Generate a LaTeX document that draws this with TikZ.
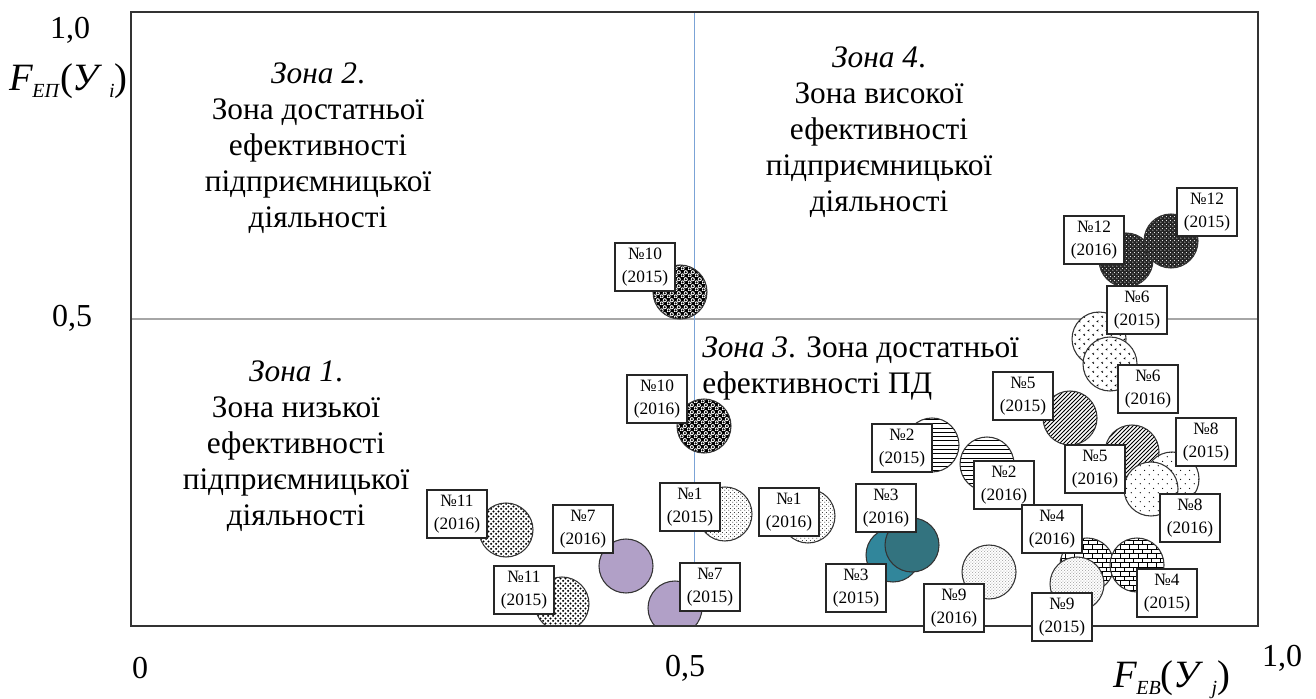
\documentclass[tikz,border=0pt]{standalone}
\usepackage{fontspec}
\setmainfont{Liberation Serif}
\usetikzlibrary{patterns}

% fine stipple (No.1)
\pgfdeclarepatternformonly{pdotA}{\pgfqpoint{0pt}{0pt}}{\pgfqpoint{3pt}{3pt}}{\pgfqpoint{3pt}{3pt}}{%
\pgfpathcircle{\pgfqpoint{0.75pt}{0.75pt}}{0.42pt}%
\pgfpathcircle{\pgfqpoint{2.25pt}{2.25pt}}{0.42pt}\pgfusepath{fill}}
% very fine grey stipple (No.9)
\pgfdeclarepatternformonly{pdotB}{\pgfqpoint{0pt}{0pt}}{\pgfqpoint{2.4pt}{2.4pt}}{\pgfqpoint{2.4pt}{2.4pt}}{%
\pgfpathcircle{\pgfqpoint{0.6pt}{0.6pt}}{0.36pt}%
\pgfpathcircle{\pgfqpoint{1.8pt}{1.8pt}}{0.36pt}\pgfusepath{fill}}
% sparse dots (No.8)
\pgfdeclarepatternformonly{pdotC}{\pgfqpoint{0pt}{0pt}}{\pgfqpoint{7pt}{7pt}}{\pgfqpoint{7pt}{7pt}}{%
\pgfpathcircle{\pgfqpoint{1.75pt}{1.75pt}}{0.5pt}%
\pgfpathcircle{\pgfqpoint{5.25pt}{5.25pt}}{0.5pt}\pgfusepath{fill}}
% dense black dots (No.11)
\pgfdeclarepatternformonly{pdotD}{\pgfqpoint{0pt}{0pt}}{\pgfqpoint{3.6pt}{3.6pt}}{\pgfqpoint{3.6pt}{3.6pt}}{%
\pgfpathcircle{\pgfqpoint{0.9pt}{0.9pt}}{0.85pt}%
\pgfpathcircle{\pgfqpoint{2.7pt}{2.7pt}}{0.85pt}\pgfusepath{fill}}
% chevrons (No.6)
\pgfdeclarepatternformonly{pchev}{\pgfqpoint{0pt}{0pt}}{\pgfqpoint{7pt}{7pt}}{\pgfqpoint{7pt}{7pt}}{%
\pgfsetlinewidth{0.45pt}%
\pgfpathmoveto{\pgfqpoint{2.4pt}{2.4pt}}\pgfpathlineto{\pgfqpoint{1.2pt}{1.75pt}}\pgfpathlineto{\pgfqpoint{2.4pt}{1.1pt}}%
\pgfpathmoveto{\pgfqpoint{5.9pt}{5.9pt}}\pgfpathlineto{\pgfqpoint{4.7pt}{5.25pt}}\pgfpathlineto{\pgfqpoint{5.9pt}{4.6pt}}%
\pgfusepath{stroke}}
% north east lines (No.5)
\pgfdeclarepatternformonly{pnel}{\pgfqpoint{-1pt}{-1pt}}{\pgfqpoint{4pt}{4pt}}{\pgfqpoint{3pt}{3pt}}{%
\pgfsetlinewidth{0.6pt}\pgfpathmoveto{\pgfqpoint{0pt}{0pt}}\pgfpathlineto{\pgfqpoint{3.1pt}{3.1pt}}\pgfusepath{stroke}}
% horizontal lines (No.2)
\pgfdeclarepatternformonly{phor}{\pgfqpoint{-1pt}{0pt}}{\pgfqpoint{4pt}{3.2pt}}{\pgfqpoint{3pt}{3.2pt}}{%
\pgfsetlinewidth{0.6pt}\pgfpathmoveto{\pgfqpoint{-0.5pt}{1.6pt}}\pgfpathlineto{\pgfqpoint{3.5pt}{1.6pt}}\pgfusepath{stroke}}
% bricks (No.4)
\pgfdeclarepatternformonly{pbrick}{\pgfqpoint{-0.5pt}{-0.5pt}}{\pgfqpoint{7.5pt}{7.5pt}}{\pgfqpoint{6.8pt}{6.8pt}}{%
\pgfsetlinewidth{0.55pt}%
\pgfpathmoveto{\pgfqpoint{0pt}{0.2pt}}\pgfpathlineto{\pgfqpoint{6.8pt}{0.2pt}}%
\pgfpathmoveto{\pgfqpoint{0pt}{3.6pt}}\pgfpathlineto{\pgfqpoint{6.8pt}{3.6pt}}%
\pgfpathmoveto{\pgfqpoint{0.2pt}{0.2pt}}\pgfpathlineto{\pgfqpoint{0.2pt}{3.6pt}}%
\pgfpathmoveto{\pgfqpoint{3.6pt}{3.6pt}}\pgfpathlineto{\pgfqpoint{3.6pt}{7.0pt}}%
\pgfusepath{stroke}}
% balls (No.10)
\pgfdeclarepatternformonly{pballW}{\pgfqpoint{0pt}{0pt}}{\pgfqpoint{5pt}{5pt}}{\pgfqpoint{5pt}{5pt}}{%
\pgfpathcircle{\pgfqpoint{1.25pt}{1.25pt}}{1.6pt}%
\pgfpathcircle{\pgfqpoint{3.75pt}{3.75pt}}{1.6pt}\pgfusepath{fill}}
\pgfdeclarepatternformonly{pballK}{\pgfqpoint{0pt}{0pt}}{\pgfqpoint{5pt}{5pt}}{\pgfqpoint{5pt}{5pt}}{%
\pgfpathcircle{\pgfqpoint{1.25pt}{1.25pt}}{0.9pt}%
\pgfpathcircle{\pgfqpoint{3.75pt}{3.75pt}}{0.9pt}\pgfusepath{fill}}
% dark lattice (No.12)
\pgfdeclarepatternformonly{plat}{\pgfqpoint{0pt}{0pt}}{\pgfqpoint{3pt}{3pt}}{\pgfqpoint{3pt}{3pt}}{%
\pgfpathcircle{\pgfqpoint{0.75pt}{0.75pt}}{0.5pt}%
\pgfpathcircle{\pgfqpoint{2.25pt}{2.25pt}}{0.5pt}\pgfusepath{fill}}

\definecolor{lav}{HTML}{B1A0C7}
\definecolor{tealA}{HTML}{31869B}
\definecolor{tealB}{HTML}{33737F}
\definecolor{hgray}{HTML}{A6A6A6}
\definecolor{vblue}{HTML}{7BA3D6}

\begin{document}
\begin{tikzpicture}[x=0.75pt,y=-0.75pt,
  frame/.style={draw=black!80, line width=1pt},
  hline/.style={draw=hgray, line width=1pt},
  vline/.style={draw=vblue, line width=1pt},
  bub/.style={circle, minimum size=40.5pt, inner sep=0pt, draw=black!80, line width=0.8pt},
  pat1/.style={bub, preaction={fill=white}, preaction={pattern=pdotA, pattern color=black}},
  pat2/.style={bub, preaction={fill=white}, preaction={pattern=phor, pattern color=black}},
  pat3a/.style={bub, fill=tealA},
  pat3b/.style={bub, fill=tealB},
  pat4/.style={bub, preaction={fill=white}, preaction={pattern=pbrick, pattern color=black}},
  pat5/.style={bub, preaction={fill=white}, preaction={pattern=pnel, pattern color=black}},
  pat6/.style={bub, preaction={fill=white}, preaction={pattern=pchev, pattern color=black}},
  pat7/.style={bub, fill=lav},
  pat8/.style={bub, preaction={fill=white}, preaction={pattern=pdotC, pattern color=black}},
  pat9/.style={bub, preaction={fill=white}, preaction={pattern=pdotB, pattern color=black!75}},
  pat10/.style={bub, preaction={fill=black}, preaction={pattern=pballW, pattern color=white}, preaction={pattern=pballK, pattern color=black}},
  pat11/.style={bub, preaction={fill=white}, preaction={pattern=pdotD, pattern color=black}},
  pat12/.style={bub, preaction={fill=black!85}, preaction={pattern=plat, pattern color=white}},
  lbl/.style={draw=black!85, line width=0.9pt, fill=white, rectangle, minimum width=45pt, minimum height=36pt, inner sep=0pt, align=center, font=\fontsize{13}{17}\selectfont},
  zone/.style={font=\fontsize{23.5}{27}\selectfont, align=center, inner sep=0pt},
  num/.style={font=\fontsize{24}{28}\selectfont, inner sep=0pt}
]
\useasboundingbox (0,0) rectangle (1316,699);

% zone dividers
\coordinate (hl) at (131,319); \coordinate (hr) at (1258,319);
\coordinate (vt) at (694.5,12); \coordinate (vb) at (694.5,626);
\draw[hline] (hl) -- (hr);
\draw[vline] (vt) -- (vb);

% bubbles
\begin{scope}
\clip (131,12) rectangle (1258,626);
\node[pat11] (c11b) at (506,530) {};
\node[pat11] (c11a) at (562,604) {};
\node[pat7]  (c7b)  at (626,566) {};
\node[pat7]  (c7a)  at (675,608) {};
\node[pat10] (c10a) at (680,292) {};
\node[pat10] (c10b) at (704,426) {};
\node[pat1]  (c1a)  at (725,514) {};
\node[pat1]  (c1b)  at (808,516) {};
\node[pat2]  (c2a)  at (932,445) {};
\node[pat2]  (c2b)  at (987,464) {};
\node[pat3a] (c3a)  at (893,555) {};
\node[pat3b] (c3b)  at (912,545) {};
\node[pat9]  (c9b)  at (989,572) {};
\node[pat4]  (c4b)  at (1087,565) {};
\node[pat4]  (c4a)  at (1137,565) {};
\node[pat9]  (c9a)  at (1077,584) {};
\node[pat12] (c12b) at (1126,260) {};
\node[pat12] (c12a) at (1171,241) {};
\node[pat6]  (c6a)  at (1099,339) {};
\node[pat6]  (c6b)  at (1110,364) {};
\node[pat5]  (c5a)  at (1070,418) {};
\node[pat5]  (c5b)  at (1132,452) {};
\node[pat8]  (c8a)  at (1172,479) {};
\node[pat8]  (c8b)  at (1151,489) {};
\end{scope}

\draw[frame] (131,12) rectangle (1258,626);

% labels
\node[lbl] (l10a) at (645,267) {№10\\(2015)};
\node[lbl] (l10b) at (657,399) {№10\\(2016)};
\node[lbl] (l1a)  at (690,507) {№1\\(2015)};
\node[lbl] (l1b)  at (789,512) {№1\\(2016)};
\node[lbl] (l11b) at (457,514) {№11\\(2016)};
\node[lbl] (l7b)  at (583,529) {№7\\(2016)};
\node[lbl] (l11a) at (524,590) {№11\\(2015)};
\node[lbl] (l7a)  at (710,587) {№7\\(2015)};
\node[lbl] (l12a) at (1207,212) {№12\\(2015)};
\node[lbl] (l12b) at (1094,240) {№12\\(2016)};
\node[lbl] (l6a)  at (1137,310) {№6\\(2015)};
\node[lbl] (l6b)  at (1148,389) {№6\\(2016)};
\node[lbl] (l5a)  at (1023,396) {№5\\(2015)};
\node[lbl] (l5b)  at (1095,469) {№5\\(2016)};
\node[lbl] (l8a)  at (1206,442) {№8\\(2015)};
\node[lbl] (l8b)  at (1190,518) {№8\\(2016)};
\node[lbl] (l2a)  at (902,448) {№2\\(2015)};
\node[lbl] (l2b)  at (1004,485) {№2\\(2016)};
\node[lbl] (l3b)  at (886,508) {№3\\(2016)};
\node[lbl] (l3a)  at (856,588) {№3\\(2015)};
\node[lbl] (l4b)  at (1052,529) {№4\\(2016)};
\node[lbl] (l4a)  at (1167,593) {№4\\(2015)};
\node[lbl] (l9b)  at (954,608) {№9\\(2016)};
\node[lbl] (l9a)  at (1062,617) {№9\\(2015)};

% zone texts
\node[zone, anchor=north] (z2) at (318,57.8) {\strut\textit{Зона 2}.\\Зона достатньої\\ефективності\\підприємницької\\діяльності};
\node[zone, anchor=north] (z4) at (879,41.8) {\strut\textit{Зона 4}.\\Зона високої\\ефективності\\підприємницької\\діяльності};
\node[zone, anchor=north] (z1) at (296,355.8) {\strut\textit{Зона 1}.\\Зона низької\\ефективності\\підприємницької\\діяльності};
\node[zone, align=left, anchor=north west] (z3) at (702,331.8) {\strut\textit{Зона 3}. Зона достатньої\\ефективності ПД};

% axis texts
\node[num] (y10) at (70,30) {1,0};
\node[num] (y05) at (72,318) {0,5};
\node[num] (x0)  at (140,668) {0};
\node[num] (x05) at (685,668) {0,5};
\node[num] (x10) at (1282,658) {1,0};
\node[inner sep=0pt, anchor=west] (fy) at (9,81) {\fontsize{29}{33}\selectfont\textit{F}\kern-0.02em\raisebox{-0.4ex}{\fontsize{15}{17}\selectfont\textit{ЕП}}(\textit{У}\kern0.16em\raisebox{-0.4ex}{\fontsize{15}{17}\selectfont\textit{i}})};
\node[inner sep=0pt, anchor=west] (fx) at (1113,680) {\fontsize{29}{33}\selectfont\textit{F}\kern-0.02em\raisebox{-0.4ex}{\fontsize{15}{17}\selectfont\textit{ЕВ}}(\textit{У}\kern0.2em\raisebox{-0.4ex}{\fontsize{15}{17}\selectfont\textit{j}})};
\end{tikzpicture}
\end{document}
